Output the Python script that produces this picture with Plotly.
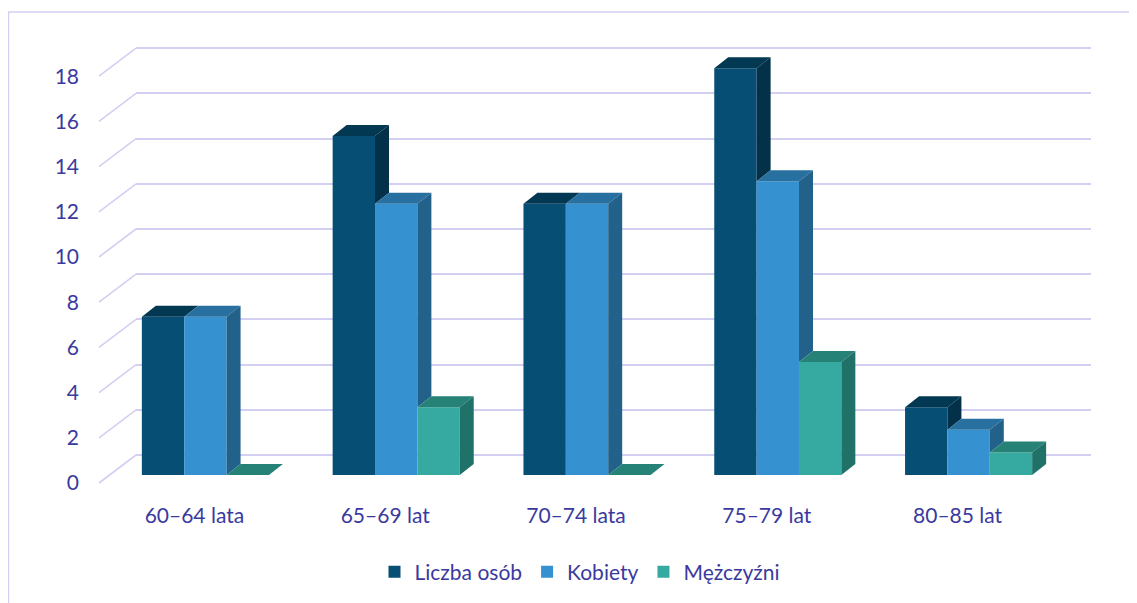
import plotly.graph_objects as go

# ---------------- data ----------------
categories = ["60–64 lata", "65–69 lat", "70–74 lata", "75–79 lat", "80–85 lat"]
series_names = ["Liczba osób", "Kobiety", "Mężczyźni"]
liczba_osob = [7, 15, 12, 18, 3]
kobiety = [7, 12, 12, 13, 2]
mezczyzni = [0, 3, 0, 5, 1]
y_ticks = [0, 2, 4, 6, 8, 10, 12, 14, 16, 18]

series_values = [liczba_osob, kobiety, mezczyzni]

# ---------------- style ----------------
FRONT = ["#064E73", "#3591CF", "#36AAA0"]
TOP = ["#033852", "#2870A0", "#268177"]
SIDE = ["#04314A", "#22618A", "#207268"]
GRID = "#D3CFF2"
TEXT = "#3A3A9E"
FONT = "Lato, 'Open Sans', sans-serif"
FS = 21

OFF = 8                # browser body margin
W, H = 1137 - OFF, 603 - OFF
PXU = 22.6             # pixels per y unit
YLO, YHI = -0.5, 20


def ydom(zero_scr, lo=YLO, hi=YHI):
    z = zero_scr - OFF
    return [1 - (z - lo * PXU) / H, 1 - (z - hi * PXU) / H]


def xdom(left_scr, right_scr):
    return [(left_scr - OFF) / W, (right_scr - OFF) / W]


BACK_ZERO, BAR_ZERO, FRONT_ZERO = 455, 475, 483
BACK_X = (136, 1091)
BAR_X = (110, 1064)
FRONT_X = (99, 1053)
BACK_LO, BACK_HI = -2, 19.5

n = len(categories)
xs = list(range(n))
BW = 0.222
px_per_cat = (BAR_X[1] - BAR_X[0]) / n
DX = 14 / px_per_cat
DY = 11 / PXU

fig = go.Figure()

# front faces (real bars)
for j, (name, vals) in enumerate(zip(series_names, series_values)):
    fig.add_trace(go.Bar(
        x=xs, y=vals, name=name, width=BW, offset=-1.5 * BW + j * BW,
        marker=dict(color=FRONT[j], line=dict(width=0)),
        xaxis="x2", yaxis="y2", hoverinfo="y+name",
    ))

# top and side faces (3D depth)
for j, vals in enumerate(series_values):
    tx, ty, sx, sy = [], [], [], []
    for i, v in enumerate(vals):
        L = i - 1.5 * BW + j * BW
        R = L + BW
        tx += [L, R, R + DX, L + DX, L, None]
        ty += [v, v, v + DY, v + DY, v, None]
        nxt = series_values[j + 1][i] if j + 1 < len(series_values) else 0
        if v > nxt:
            sx += [R, R, R + DX, R + DX, R, None]
            sy += [nxt, v, v + DY, nxt + DY, nxt, None]
    fig.add_trace(go.Scatter(x=tx, y=ty, mode="lines", fill="toself",
                             fillcolor=TOP[j], line=dict(width=0),
                             hoverinfo="skip", showlegend=False,
                             xaxis="x2", yaxis="y2"))
    if sx:
        fig.add_trace(go.Scatter(x=sx, y=sy, mode="lines", fill="toself",
                                 fillcolor=SIDE[j], line=dict(width=0),
                                 hoverinfo="skip", showlegend=False,
                                 xaxis="x2", yaxis="y2"))

# invisible anchor trace so the front-plane axes exist
fig.add_trace(go.Scatter(x=[xs[0]], y=[y_ticks[0]], mode="markers",
                         marker=dict(opacity=0), hoverinfo="skip",
                         showlegend=False, xaxis="x3", yaxis="y3"))

shapes = []
# diagonal connectors from front plane to back wall
for v in y_ticks:
    shapes.append(dict(type="line", xref="paper", yref="y",
                       xsizemode="pixel", xanchor=(BACK_X[0] - OFF) / W, x0=0, x1=-37,
                       ysizemode="pixel", yanchor=v, y0=0, y1=-28,
                       line=dict(color=GRID, width=1.6), layer="below"))
# outer border
shapes.append(dict(type="rect", xref="paper", yref="paper",
                   x0=0.5 / W, x1=1.02, y0=-0.02, y1=1 - (12 - OFF) / H,
                   line=dict(color=GRID, width=1.4), fillcolor="rgba(0,0,0,0)",
                   layer="below"))

fig.update_layout(
    width=W, height=H,
    margin=dict(l=0, r=0, t=0, b=0),
    paper_bgcolor="white", plot_bgcolor="rgba(0,0,0,0)",
    font=dict(family=FONT, size=FS, color=TEXT),
    barmode="overlay",
    showlegend=True,
    legend=dict(orientation="h", x=(580 - OFF) / W, xanchor="center",
                y=1 - (572 - OFF) / H, yanchor="middle",
                font=dict(family=FONT, size=FS, color=TEXT),
                traceorder="normal", bgcolor="rgba(0,0,0,0)"),
    # back wall (gridlines)
    xaxis=dict(domain=xdom(*BACK_X), range=[0, 1], visible=False, anchor="y"),
    yaxis=dict(domain=ydom(BACK_ZERO, lo=BACK_LO, hi=BACK_HI), range=[BACK_LO, BACK_HI],
               tickvals=y_ticks,
               showticklabels=False, showgrid=True, gridcolor=GRID, gridwidth=1.6,
               zeroline=False, showline=False, ticks="", anchor="x"),
    # bar plane
    xaxis2=dict(domain=xdom(*BAR_X), range=[-0.5, 4.5], visible=False, anchor="y2"),
    yaxis2=dict(domain=ydom(BAR_ZERO), range=[YLO, YHI], visible=False, anchor="x2"),
    # front plane (labels)
    xaxis3=dict(domain=xdom(*FRONT_X), range=[-0.5, 4.5], tickvals=xs, ticktext=categories,
                showgrid=False, zeroline=False, showline=False, ticks="",
                anchor="y3", ticklabelstandoff=7,
                tickfont=dict(family=FONT, size=FS, color=TEXT)),
    yaxis3=dict(domain=ydom(FRONT_ZERO), range=[YLO, YHI], tickvals=y_ticks,
                showgrid=False, zeroline=False, showline=False, ticks="",
                anchor="x3", ticklabelstandoff=19,
                tickfont=dict(family=FONT, size=FS, color=TEXT)),
    shapes=shapes,
)

fig.write_html("out.html")
